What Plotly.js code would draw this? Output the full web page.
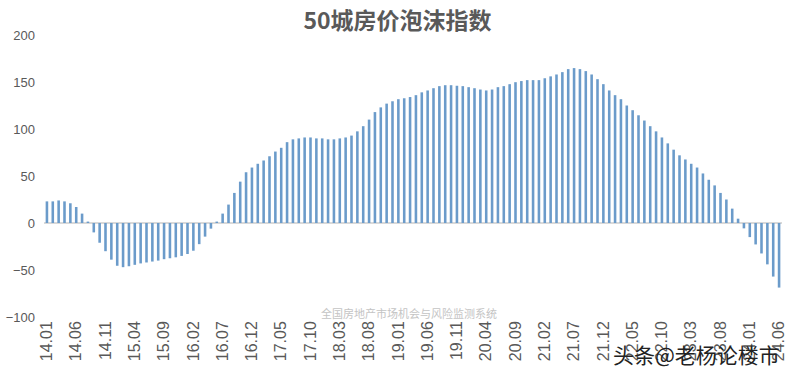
<!DOCTYPE html>
<html>
<head>
<meta charset="utf-8">
<script src="https://cdn.plot.ly/plotly-3.0.1.min.js"></script>
<style>html,body{margin:0;padding:0;background:#fff;}#chart{width:795px;height:383px;}</style>
</head>
<body>
<div id="chart"></div>
<script>
const months = [
 "14.01","14.02","14.03","14.04","14.05","14.06","14.07","14.08","14.09","14.10","14.11","14.12",
 "15.01","15.02","15.03","15.04","15.05","15.06","15.07","15.08","15.09","15.10","15.11","15.12",
 "16.01","16.02","16.03","16.04","16.05","16.06","16.07","16.08","16.09","16.10","16.11","16.12",
 "17.01","17.02","17.03","17.04","17.05","17.06","17.07","17.08","17.09","17.10","17.11","17.12",
 "18.01","18.02","18.03","18.04","18.05","18.06","18.07","18.08","18.09","18.10","18.11","18.12",
 "19.01","19.02","19.03","19.04","19.05","19.06","19.07","19.08","19.09","19.10","19.11","19.12",
 "20.01","20.02","20.03","20.04","20.05","20.06","20.07","20.08","20.09","20.10","20.11","20.12",
 "21.01","21.02","21.03","21.04","21.05","21.06","21.07","21.08","21.09","21.10","21.11","21.12",
 "22.01","22.02","22.03","22.04","22.05","22.06","22.07","22.08","22.09","22.10","22.11","22.12",
 "23.01","23.02","23.03","23.04","23.05","23.06","23.07","23.08","23.09","23.10","23.11","23.12",
 "24.01","24.02","24.03","24.04","24.05","24.06"
];
const bubbleIndex = [
 23,23,24,23,21,17,10,1.5,-10,-21,-30,-39,
 -45.5,-47,-46,-44.5,-43,-42,-41,-40,-38.5,-37.5,-36.5,-35,
 -33,-29.5,-22.5,-14.5,-6,1.5,10,19.6,32,44,54,59,
 63,66.5,71,76,80,86,89,90,91,91,90,90,
 89,89,90,91,93,97.5,103,110,118,123,127,129.5,
 131.7,132.7,134,136,139,141,143.4,145.6,146.6,146.6,146,145.6,
 144.5,143.4,142,141,142,144.5,145.6,147.7,149.8,151,152,152,
 152,154,156,158,160.5,163.7,164.8,163.7,161.6,158,153,147.7,
 141,136,131.7,125,120,114.6,109,103,97.5,91,84.7,78,
 72,67.6,63,59,52.7,46,40,32,25,15.3,4.6,-5.7,
 -15,-22.8,-32.4,-44,-57,-68.7
];
const tickLabels = ["14.01","14.06","14.11","15.04","15.09","16.02","16.07","16.12","17.05","17.10",
 "18.03","18.08","19.01","19.06","19.11","20.04","20.09","21.02","21.07","21.12",
 "22.05","22.10","23.03","23.08","24.01","24.06"];
const yTicks = [-100,-50,0,50,100,150,200];

const data = [{
  type: 'bar',
  x: months,
  y: bubbleIndex,
  marker: {color: '#6B9BCA'},
  hoverinfo: 'x+y'
}];

const layout = {
  width: 795, height: 383,
  margin: {l: 44, r: 13, t: 35, b: 66},
  paper_bgcolor: '#ffffff', plot_bgcolor: '#ffffff',
  bargap: 0.56,
  showlegend: false,
  title: {text: '<b>50城房价泡沫指数</b>', x: 0.5, xanchor: 'center', y: 0.945, yanchor: 'middle',
    font: {family: '"Noto Sans CJK SC", "Liberation Sans", sans-serif', size: 23, color: '#595959'}},
  xaxis: {
    type: 'category', categoryorder: 'array', categoryarray: months,
    range: [-0.5, months.length - 0.5],
    tickmode: 'array', tickvals: tickLabels, ticktext: tickLabels,
    tickangle: -90, showgrid: false, showline: false, zeroline: false, ticks: '',
    tickfont: {family: '"Liberation Sans", Arial, sans-serif', size: 16, color: '#595959'}
  },
  yaxis: {
    range: [-100, 200], tickmode: 'array', tickvals: yTicks,
    showgrid: false, showline: false, ticks: '',
    zeroline: true, zerolinecolor: '#d9d9d9', zerolinewidth: 1.5,
    ticklabelstandoff: 8,
    tickfont: {family: '"Liberation Sans", Arial, sans-serif', size: 13, color: '#595959'}
  },
  annotations: [
    {text: '全国房地产市场机会与风险监测系统', xref: 'paper', yref: 'paper', x: 0.495, y: 0.015,
     xanchor: 'center', yanchor: 'middle', showarrow: false,
     font: {family: '"Noto Sans CJK SC", sans-serif', size: 11, color: '#c4c4c4'}},
    {text: '头条@老杨论楼市', xref: 'paper', yref: 'paper', x: 1.0, y: -0.13,
     xanchor: 'right', yanchor: 'middle', showarrow: false,
     font: {family: '"Noto Sans CJK SC", sans-serif', size: 21, color: '#222222'}}
  ]
};

Plotly.newPlot('chart', data, layout, {displayModeBar: false, staticPlot: true});
</script>
</body>
</html>
